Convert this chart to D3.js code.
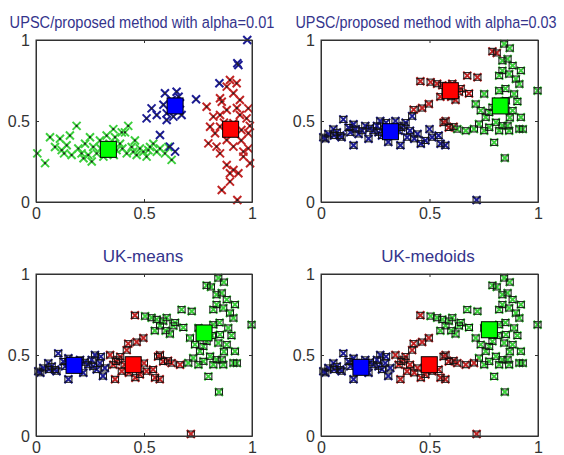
<!DOCTYPE html>
<html>
<head>
<meta charset="utf-8">
<script src="https://cdn.jsdelivr.net/npm/d3@7"></script>
<style>
  body { margin: 0; background: #fff; }
  svg { display: block; font-family: "Liberation Sans", Arial, sans-serif; }
</style>
</head>
<body>
<svg id="chart" width="564" height="455"></svg>
<script>
// ---- data ----

// panel 1 (alpha=0.01): its own point set, [x, y]
const p1Green = [
    [0.006, 0.30], [0.042, 0.24], [0.065, 0.40], [0.088, 0.34], [0.111, 0.39], [0.119, 0.32],
    [0.142, 0.35], [0.157, 0.41], [0.165, 0.29], [0.188, 0.47], [0.196, 0.33], [0.211, 0.30],
    [0.227, 0.36], [0.242, 0.29], [0.258, 0.25], [0.265, 0.34], [0.25, 0.40], [0.281, 0.30],
    [0.296, 0.38], [0.312, 0.28], [0.327, 0.41], [0.358, 0.45], [0.366, 0.40], [0.373, 0.32],
    [0.389, 0.36], [0.397, 0.43], [0.412, 0.43], [0.427, 0.47], [0.42, 0.30], [0.443, 0.34],
    [0.458, 0.38], [0.466, 0.29], [0.481, 0.33], [0.497, 0.31], [0.512, 0.28], [0.528, 0.34],
    [0.543, 0.36], [0.559, 0.31], [0.574, 0.33], [0.597, 0.30], [0.613, 0.34], [0.628, 0.26],
    [0.34, 0.36], [0.13, 0.30], [0.22, 0.27], [0.30, 0.33], [0.45, 0.31], [0.52, 0.32],
    [0.40, 0.33], [0.36, 0.29]
];
const p1Blue = [
    [0.978, 1.0], [0.932, 0.856], [0.937, 0.846], [0.849, 0.733], [0.741, 0.634], [0.651, 0.681],
    [0.597, 0.671], [0.535, 0.578], [0.512, 0.516], [0.559, 0.537], [0.605, 0.506], [0.628, 0.63],
    [0.667, 0.609], [0.674, 0.537], [0.574, 0.414], [0.62, 0.342], [0.644, 0.311], [0.605, 0.547],
    [0.636, 0.527], [0.59, 0.60], [0.65, 0.57], [0.66, 0.65]
];
const p1Red = [
    [0.898, 0.753], [0.929, 0.733], [0.883, 0.712], [0.852, 0.64], [0.914, 0.671], [0.944, 0.63],
    [0.983, 0.578], [0.821, 0.527], [0.852, 0.537], [0.883, 0.568], [0.944, 0.537], [0.806, 0.465],
    [0.829, 0.424], [0.852, 0.465], [0.914, 0.486], [0.951, 0.444], [0.983, 0.424], [0.798, 0.362],
    [0.836, 0.342], [0.883, 0.383], [0.914, 0.342], [0.96, 0.311], [0.983, 0.331], [0.991, 0.239],
    [0.96, 0.28], [0.852, 0.3], [0.883, 0.228], [0.914, 0.198], [0.937, 0.177], [0.898, 0.126],
    [0.86, 0.074], [0.932, 0.012], [0.898, 0.177], [0.975, 0.516], [0.79, 0.588], [0.86, 0.619],
    [0.93, 0.58], [0.87, 0.49], [0.99, 0.47], [0.95, 0.38]
];

// panels 2-4 share one point set, split in groups that change cluster between panels
const farLeft = [
    [0.011, 0.40], [0.034, 0.42], [0.057, 0.45], [0.073, 0.43], [0.088, 0.41], [0.103, 0.51],
    [0.127, 0.46], [0.15, 0.48], [0.15, 0.35], [0.173, 0.42], [0.204, 0.47], [0.219, 0.39],
    [0.242, 0.44], [0.258, 0.47], [0.273, 0.50], [0.281, 0.41], [0.296, 0.45], [0.319, 0.42],
    [0.02, 0.39], [0.095, 0.40], [0.19, 0.44], [0.31, 0.37], [0.135, 0.43], [0.225, 0.455],
    [0.06, 0.41], [0.16, 0.45], [0.265, 0.43], [0.30, 0.49]
];
const midLow = [
    [0.343, 0.50], [0.358, 0.44], [0.366, 0.35], [0.381, 0.47], [0.397, 0.40], [0.37, 0.46],
    [0.41, 0.44], [0.42, 0.53], [0.445, 0.42], [0.46, 0.36], [0.481, 0.38], [0.50, 0.45],
    [0.512, 0.40], [0.542, 0.41], [0.551, 0.36], [0.573, 0.35], [0.39, 0.49], [0.43, 0.39]
];
const midDiag = [
    [0.427, 0.57], [0.466, 0.58], [0.497, 0.605], [0.458, 0.745], [0.565, 0.49], [0.574, 0.50],
    [0.589, 0.46], [0.611, 0.465]
];
const midRight = [[0.628, 0.45], [0.667, 0.44]];
const upperMid = [
    [0.505, 0.74], [0.535, 0.73], [0.559, 0.72], [0.574, 0.68], [0.589, 0.71], [0.605, 0.73],
    [0.62, 0.63], [0.636, 0.68], [0.644, 0.70], [0.674, 0.78], [0.682, 0.67], [0.721, 0.77],
    [0.55, 0.65], [0.60, 0.65], [0.79, 0.93], [0.81, 0.92]
];
const upperRight = [
    [0.844, 0.975], [0.836, 0.872], [0.86, 0.883], [0.883, 0.842], [0.921, 0.811], [0.836, 0.811],
    [0.867, 0.79], [0.898, 0.759], [0.821, 0.78], [0.914, 0.728], [0.89, 0.667], [0.852, 0.626],
    [0.821, 0.687], [0.844, 0.574], [0.883, 0.564], [0.921, 0.523], [0.914, 0.451], [0.867, 0.44],
    [0.836, 0.471], [0.806, 0.492], [0.775, 0.461], [0.752, 0.44], [0.798, 0.368], [0.821, 0.44],
    [0.775, 0.553], [0.847, 0.272], [0.998, 0.687], [0.713, 0.605], [0.752, 0.667], [0.79, 0.584],
    [0.736, 0.564], [0.759, 0.523], [0.728, 0.481], [0.87, 0.52], [0.905, 0.62], [0.85, 0.70],
    [0.87, 0.95], [0.815, 0.62], [0.93, 0.45], [0.86, 0.47]
];
const lowOutlier = [[0.717, 0.012]];
const edgePoint = [[0.705, 0.451]];

const sharedGroups = [ farLeft, midLow, midDiag, midRight, upperMid, upperRight, lowOutlier, edgePoint ];
// cluster of each shared group, per panel
const clustersA03 = [ 'b', 'b', 'r', 'g', 'r', 'g', 'b', 'g' ];
const clustersMeans = [ 'b', 'r', 'r', 'r', 'g', 'g', 'r', 'g' ];
const clustersMedoids = [ 'b', 'r', 'r', 'r', 'g', 'g', 'r', 'r' ];

// cluster centres, order blue, red, green
const centresA01 = [ [0.644, 0.593], [0.901, 0.449], [0.335, 0.325] ];
const centresA03 = [ [0.32, 0.434], [0.596, 0.687], [0.826, 0.593] ];
const centresMeans = [ [0.176, 0.436], [0.45, 0.44], [0.778, 0.636] ];
const centresMedoids = [ [0.184, 0.424], [0.499, 0.44], [0.776, 0.656] ];

const titles = [
    'UPSC/proposed method with alpha=0.01',
    'UPSC/proposed method with alpha=0.03',
    'UK-means',
    'UK-medoids'
];
const tickValues = [ 0, 0.5, 1 ];
const tickLabels = [ '0', '0.5', '1' ];

// ---- drawing ----

const crossColor = { b: '#1c1c94', r: '#c02424', g: '#3ccf3c' };
const fillColor = { b: '#0000ff', r: '#ff0000', g: '#00ff00' };
const centreKeys = [ 'b', 'r', 'g' ];

function sharedPoints( clusters ) {
    const pts = [];
    sharedGroups.forEach( ( group, i ) => {
        group.forEach( p => pts.push( { x: p[ 0 ], y: p[ 1 ], c: clusters[ i ] } ) );
    } );
    return pts;
}

const p1Points = [].concat(
    p1Green.map( p => ( { x: p[ 0 ], y: p[ 1 ], c: 'g' } ) ),
    p1Blue.map( p => ( { x: p[ 0 ], y: p[ 1 ], c: 'b' } ) ),
    p1Red.map( p => ( { x: p[ 0 ], y: p[ 1 ], c: 'r' } ) )
);

// long titles are narrow and tall in the reference: smaller font stretched vertically
const panels = [
    { left: 36, top: 40, width: 216, points: p1Points, centres: centresA01, boxed: false, titleY: 28, titleX: 142, titleSize: 14.6, stretch: 1.18 },
    { left: 321, top: 40, width: 217, points: sharedPoints( clustersA03 ), centres: centresA03, boxed: true, titleY: 28, titleX: 426, titleSize: 14.4, stretch: 1.18 },
    { left: 36, top: 274, width: 216, points: sharedPoints( clustersMeans ), centres: centresMeans, boxed: true, titleY: 262, titleX: 143, titleSize: 17, stretch: 1 },
    { left: 321, top: 274, width: 217, points: sharedPoints( clustersMedoids ), centres: centresMedoids, boxed: true, titleY: 262, titleX: 428, titleSize: 17, stretch: 1 }
];
const panelHeight = 162;

const svg = d3.select( '#chart' );

panels.forEach( ( panel, idx ) => {
    const xScale = d3.scaleLinear().domain( [ 0, 1 ] ).range( [ 0, panel.width ] );
    const yScale = d3.scaleLinear().domain( [ 0, 1 ] ).range( [ panelHeight, 0 ] );

    const g = svg.append( 'g' )
        .attr( 'transform', `translate(${panel.left},${panel.top})` );

    // title
    svg.append( 'text' )
        .attr( 'transform', `translate(${panel.titleX},${panel.titleY}) scale(1,${panel.stretch})` )
        .attr( 'text-anchor', 'middle' )
        .attr( 'font-size', panel.titleSize )
        .attr( 'fill', '#34348c' )
        .text( titles[ idx ] );

    const draw = g.append( 'g' );

    // crosses
    const s = 4;
    draw.selectAll( 'path.cross' ).data( panel.points )
        .enter().append( 'path' )
        .attr( 'class', 'cross' )
        .attr( 'd', d => {
            const cx = xScale( d.x ), cy = yScale( d.y );
            return `M${cx - s},${cy - s}L${cx + s},${cy + s}M${cx - s},${cy + s}L${cx + s},${cy - s}`;
        } )
        .attr( 'stroke', d => crossColor[ d.c ] )
        .attr( 'stroke-width', 2 )
        .attr( 'fill', 'none' );

    if ( panel.boxed ) {
        draw.selectAll( 'rect.box' ).data( panel.points )
            .enter().append( 'rect' )
            .attr( 'class', 'box' )
            .attr( 'x', d => xScale( d.x ) - 3.5 )
            .attr( 'y', d => yScale( d.y ) - 3 )
            .attr( 'width', 7 )
            .attr( 'height', 6 )
            .attr( 'fill', 'none' )
            .attr( 'stroke', '#111' )
            .attr( 'stroke-width', 1 );
    } else {
        draw.selectAll( 'rect.dot' ).data( panel.points )
            .enter().append( 'rect' )
            .attr( 'class', 'dot' )
            .attr( 'x', d => xScale( d.x ) - 1 )
            .attr( 'y', d => yScale( d.y ) - 1 )
            .attr( 'width', 2 )
            .attr( 'height', 2 )
            .attr( 'fill', '#222' );
    }

    // cluster centres
    draw.selectAll( 'rect.centre' ).data( panel.centres )
        .enter().append( 'rect' )
        .attr( 'class', 'centre' )
        .attr( 'x', d => xScale( d[ 0 ] ) - 8 )
        .attr( 'y', d => yScale( d[ 1 ] ) - 8 )
        .attr( 'width', 16 )
        .attr( 'height', 16 )
        .attr( 'fill', ( d, i ) => fillColor[ centreKeys[ i ] ] )
        .attr( 'stroke', '#000' )
        .attr( 'stroke-width', 1 );

    // axes, ticks inside like matlab
    const fmt = v => tickLabels[ tickValues.indexOf( v ) ];
    const xAxis = d3.axisBottom( xScale ).tickValues( tickValues ).tickFormat( fmt )
        .tickSizeInner( -3 ).tickSizeOuter( 0 ).tickPadding( 6 );
    const yAxis = d3.axisLeft( yScale ).tickValues( tickValues ).tickFormat( fmt )
        .tickSizeInner( -3 ).tickSizeOuter( 0 ).tickPadding( 6 );
    const topAxis = d3.axisTop( xScale ).tickValues( tickValues ).tickFormat( '' )
        .tickSizeInner( -3 ).tickSizeOuter( 0 );
    const rightAxis = d3.axisRight( yScale ).tickValues( tickValues ).tickFormat( '' )
        .tickSizeInner( -3 ).tickSizeOuter( 0 );

    const axes = [
        g.append( 'g' ).attr( 'transform', `translate(0,${panelHeight})` ).call( xAxis ),
        g.append( 'g' ).call( yAxis ),
        g.append( 'g' ).call( topAxis ),
        g.append( 'g' ).attr( 'transform', `translate(${panel.width},0)` ).call( rightAxis )
    ];
    axes.forEach( a => {
        a.attr( 'font-family', null ).attr( 'font-size', 16 );
        a.selectAll( 'path, line' ).attr( 'stroke', '#333' );
        a.selectAll( 'text' ).attr( 'fill', '#333' );
    } );

    g.append( 'rect' )
        .attr( 'width', panel.width )
        .attr( 'height', panelHeight )
        .attr( 'fill', 'none' )
        .attr( 'stroke', '#333' )
        .attr( 'stroke-width', 1 );
} );
</script>
</body>
</html>
